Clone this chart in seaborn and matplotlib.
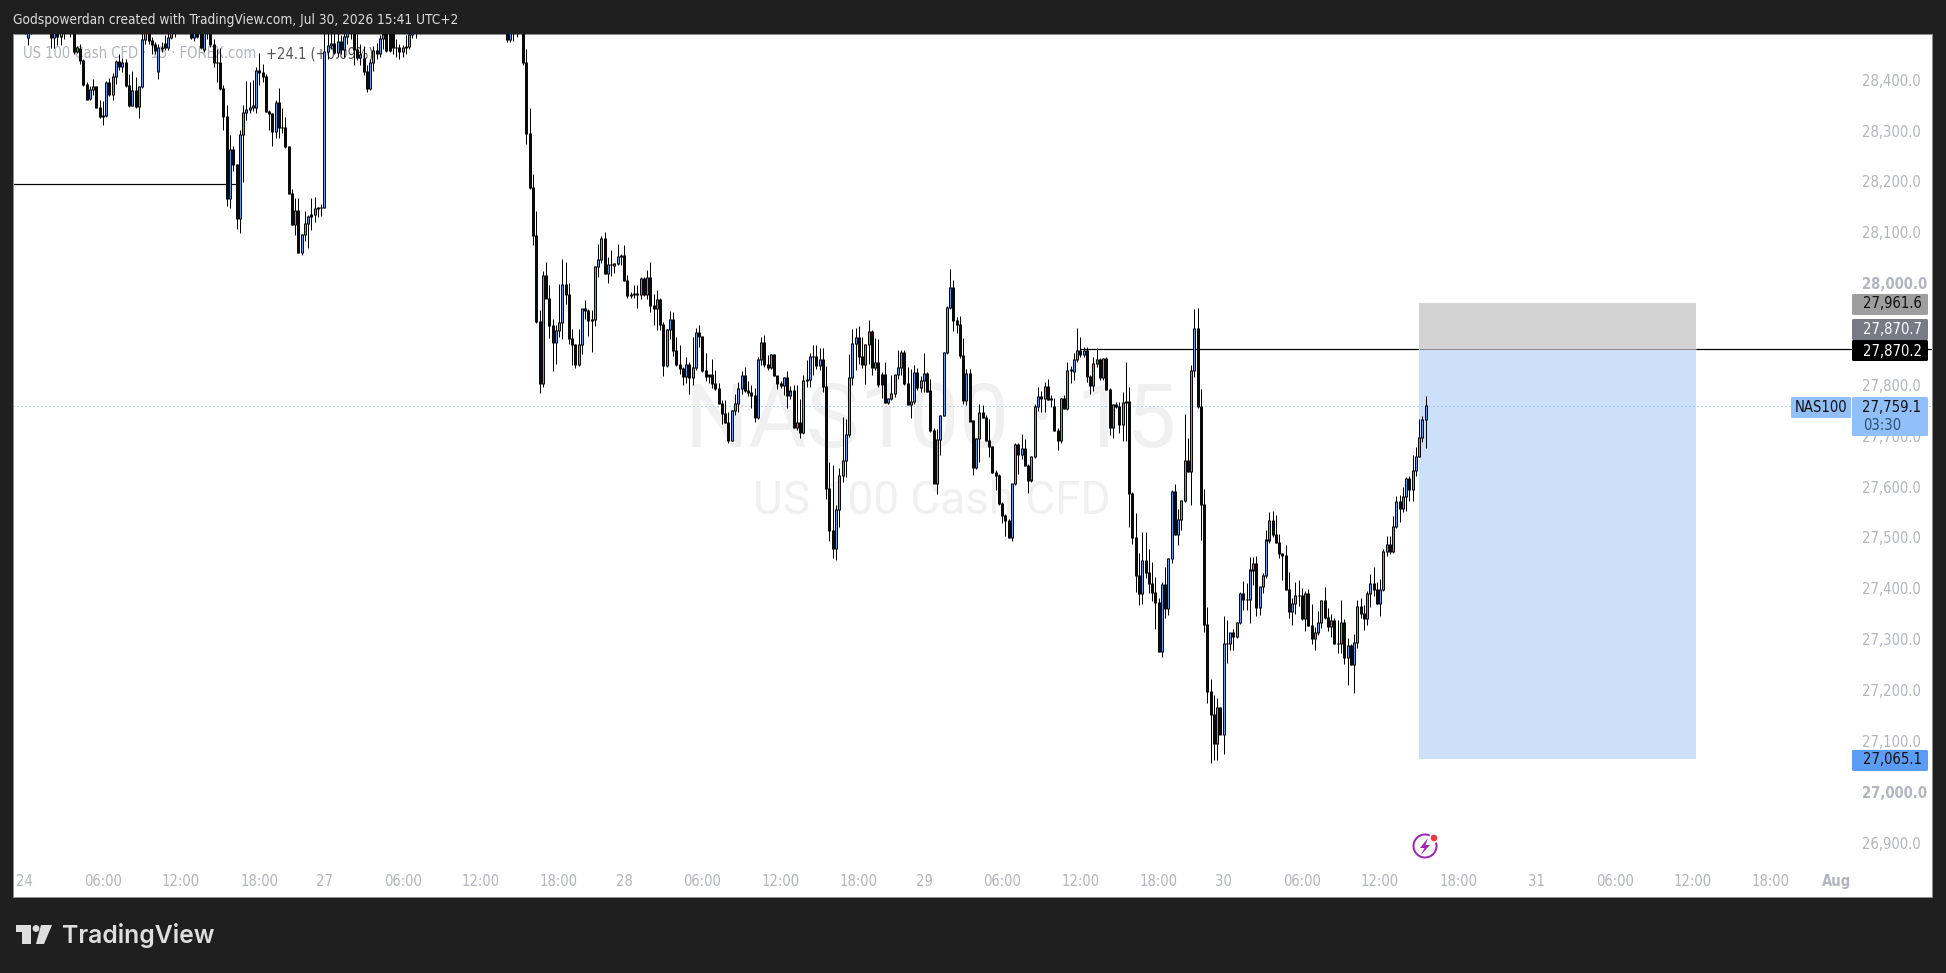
import numpy as np
import pandas as pd
import matplotlib
matplotlib.use("Agg")
import matplotlib.pyplot as plt
import matplotlib.patches as mpatches
import seaborn as sns

nan = float("nan")

# NAS100 15 min candles, first bar is index -3 (00:00 on the 24th is 0)
opens = [28520,28530,28515,28510,28484,28500,28520,28535,28525,28540,
28520,28510,28484,28500,28485,28495,28510,28505,28498,28456,
28462,28438,28390,28363,28380,28386,28346,28327,28329,28394,
28371,28407,28435,28426,28433,28388,28350,28379,28348,28386,
28479,28495,28478,28469,28416,28464,28472,28463,28484,28495,
28510,28520,28515,28525,28520,28483,28500,28500,28460,28495,
28505,28470,28433,28434,28382,28327,28166,28263,28233,28128,
28292,28335,28342,28346,28346,28418,28414,28406,28337,28333,
28299,28355,28306,28307,28268,28177,28116,28142,28061,28096,
28117,28132,28135,28146,28148,28149,28456,28467,28471,28453,
28475,28460,28485,28500,28510,28459,28443,28441,28417,28382,
28433,28458,28452,28482,28500,28495,28490,28463,28463,28456,
28464,28465,28489,28500,
nan,nan,nan,nan,nan,nan,nan,nan,nan,nan,nan,nan,nan,nan,nan,nan,nan,nan,nan,nan,nan,nan,nan,nan,nan,nan,nan,
28500,28479,28495,28500,28510,28505,28433,28294,28189,28094,27924,
27803,28016,27970,27916,27883,27907,27923,27998,27978,27891,
27880,27841,27880,27950,27947,27926,27928,28032,28047,28088,
28020,28037,28034,28038,28053,28055,28005,27975,27978,27979,
27978,28009,27978,28011,27957,27950,27968,27918,27839,27908,
27928,27867,27841,27832,27817,27841,27814,27834,27903,27895,
27829,27817,27820,27803,27792,27764,27743,27726,27690,27749,
27764,27793,27819,27789,27785,27779,27736,27849,27884,27840,
27834,27860,27818,27803,27798,27815,27779,27788,27716,27727,
27706,27809,27811,27855,27856,27839,27849,27796,27596,27513,
27478,27555,27621,27651,27703,27814,27881,27894,27855,27841,
27879,27905,27835,27844,27820,27820,27765,27773,27784,27820,
27835,27864,27803,27761,27767,27824,27794,27809,27822,27788,
27711,27607,27693,27740,27864,27952,27991,27926,27919,27858,
27770,27822,27729,27637,27695,27746,27735,27690,27678,27627,
27622,27567,27543,27534,27499,27606,27683,27663,27675,27641,
27613,27660,27757,27778,27773,27796,27771,27757,27710,27690,
27773,27754,27829,27826,27850,27868,27860,27868,27817,27798,
27842,27850,27814,27852,27791,27717,27761,27758,27722,27765,
27767,27587,27499,27425,27390,27454,27432,27410,27391,27372,
27275,27407,27360,27459,27591,27506,27535,27572,27651,27629,
27829,27911,27758,27564,27328,27197,27152,27095,27166,27113,
27292,27291,27313,27305,27333,27390,27378,27378,27436,27449,
27362,27403,27425,27495,27534,27506,27491,27468,27464,27398,
27354,27370,27385,27386,27341,27390,27326,27301,27313,27333,
27377,27343,27324,27337,27292,27291,27333,27263,27288,27250,
27294,27364,27350,27341,27390,27409,27398,27371,27398,27472,
27486,27473,27521,27570,27557,27580,27616,27594,27631,27660,
27696,27732]

highs = [28540,28550,28535,28530,28510,28530,28545,28555,28550,28560,
28540,28520,28510,28515,28505,28520,28530,28525,28515,28467,
28470,28440,28395,28388,28402,28388,28361,28358,28397,28404,
28413,28438,28450,28442,28440,28411,28418,28405,28388,28495,
28510,28510,28485,28475,28470,28475,28489,28495,28505,28520,
28530,28540,28535,28545,28530,28510,28510,28520,28510,28515,
28520,28480,28460,28462,28390,28351,28292,28270,28235,28302,
28351,28397,28395,28400,28425,28453,28431,28412,28340,28335,
28361,28384,28344,28326,28270,28186,28168,28168,28096,28142,
28135,28168,28170,28150,28155,28500,28500,28510,28500,28495,
28489,28510,28510,28520,28525,28490,28470,28466,28430,28440,
28466,28473,28489,28510,28520,28515,28515,28481,28470,28468,
28489,28495,28510,28520,
nan,nan,nan,nan,nan,nan,nan,nan,nan,nan,nan,nan,nan,nan,nan,nan,nan,nan,nan,nan,nan,nan,nan,nan,nan,nan,nan,
28520,28510,28510,28520,28525,28520,28460,28345,28215,28142,27947,
28024,28042,27996,27929,27918,27998,28047,28041,28000,27910,
27880,27910,27950,27967,27950,27948,28034,28077,28092,28100,
28051,28065,28040,28077,28058,28075,28016,27982,27996,27996,
28012,28012,28026,28041,27979,27986,27970,27924,27910,27945,
27944,27895,27878,27836,27855,27846,27895,27911,27918,27897,
27862,27820,27850,27829,27803,27770,27770,27747,27750,27783,
27805,27827,27836,27808,27800,27793,27855,27895,27898,27859,
27860,27860,27818,27808,27815,27827,27797,27799,27799,27773,
27819,27848,27863,27878,27879,27873,27873,27837,27649,27642,
27563,27636,27737,27732,27860,27909,27911,27915,27895,27880,
27927,27907,27892,27891,27825,27845,27775,27819,27820,27869,
27869,27868,27835,27832,27840,27834,27818,27862,27825,27812,
27716,27714,27740,27864,27955,28027,28006,27934,27936,27892,
27831,27831,27731,27695,27762,27760,27740,27732,27680,27632,
27625,27570,27547,27537,27606,27686,27685,27704,27693,27645,
27660,27763,27795,27788,27806,27812,27780,27775,27715,27775,
27780,27845,27837,27862,27911,27894,27875,27875,27820,27855,
27873,27852,27852,27855,27793,27762,27767,27767,27786,27846,
27796,27590,27548,27470,27510,27510,27478,27452,27423,27381,
27413,27442,27460,27593,27605,27555,27574,27742,27695,27840,
27950,27952,27791,27596,27364,27222,27191,27184,27166,27345,
27338,27313,27320,27333,27393,27414,27410,27462,27462,27464,
27403,27430,27514,27550,27552,27544,27506,27470,27485,27432,
27380,27413,27417,27400,27395,27398,27369,27323,27355,27377,
27403,27362,27349,27341,27338,27377,27339,27303,27290,27311,
27378,27380,27367,27395,27429,27441,27413,27419,27478,27503,
27503,27542,27582,27583,27600,27619,27620,27662,27678,27732,
27738,27778]

lows = [28505,28510,28500,28490,28468,28490,28505,28520,28510,28515,
28500,28463,28463,28468,28468,28480,28495,28485,28450,28452,
28431,28388,28360,28360,28370,28345,28325,28311,28327,28368,
28361,28391,28420,28415,28386,28346,28348,28345,28325,28384,
28470,28470,28451,28450,28402,28455,28459,28458,28480,28485,
28495,28505,28500,28510,28481,28477,28482,28460,28455,28480,
28465,28425,28395,28380,28302,28152,28148,28220,28106,28099,
28198,28320,28335,28338,28335,28390,28395,28336,28302,28270,
28285,28286,28296,28266,28175,28115,28095,28060,28055,28083,
28070,28105,28120,28130,28132,28147,28440,28460,28450,28445,
28450,28445,28470,28480,28429,28438,28430,28410,28376,28380,
28417,28440,28445,28460,28455,28455,28450,28444,28440,28445,
28450,28460,28483,28483,
nan,nan,nan,nan,nan,nan,nan,nan,nan,nan,nan,nan,nan,nan,nan,nan,nan,nan,nan,nan,nan,nan,nan,nan,nan,nan,nan,
28475,28475,28477,28485,28492,28430,28273,28185,28075,27922,27785,
27795,27970,27893,27828,27841,27895,27890,27959,27880,27839,
27834,27838,27860,27930,27896,27865,27916,28013,28040,28019,
28000,28014,28020,28035,28035,28005,27970,27971,27970,27952,
27968,27975,27968,27943,27918,27908,27908,27817,27836,27890,
27857,27838,27821,27800,27803,27782,27800,27830,27875,27826,
27808,27803,27793,27790,27762,27723,27725,27686,27689,27740,
27746,27783,27787,27779,27755,27728,27732,27840,27836,27830,
27832,27818,27792,27793,27780,27754,27773,27716,27711,27696,
27704,27796,27796,27820,27832,27830,27786,27575,27493,27460,
27455,27521,27610,27619,27697,27799,27829,27842,27833,27801,
27842,27819,27830,27796,27775,27765,27762,27770,27776,27812,
27819,27800,27760,27734,27762,27790,27786,27786,27786,27708,
27607,27585,27662,27738,27860,27950,27905,27902,27853,27763,
27760,27729,27623,27634,27649,27735,27690,27659,27627,27594,
27564,27528,27502,27499,27493,27603,27625,27655,27640,27588,
27610,27657,27749,27747,27747,27770,27757,27710,27672,27686,
27752,27750,27803,27809,27845,27855,27855,27806,27782,27788,
27835,27810,27810,27790,27702,27695,27755,27705,27690,27689,
27521,27488,27393,27367,27370,27420,27391,27376,27320,27275,
27265,27342,27347,27450,27505,27485,27514,27570,27628,27564,
27816,27755,27495,27315,27174,27057,27062,27062,27113,27075,
27254,27279,27279,27303,27330,27357,27357,27331,27407,27346,
27347,27390,27421,27490,27500,27490,27460,27416,27396,27342,
27328,27350,27365,27338,27316,27326,27291,27278,27308,27321,
27340,27316,27305,27291,27273,27272,27252,27210,27250,27195,
27282,27342,27318,27328,27364,27385,27370,27346,27395,27464,
27468,27470,27519,27531,27550,27552,27572,27572,27621,27658,
27688,27675]

closes = [28530,28515,28510,28500,28500,28520,28535,28525,28540,28520,
28510,28484,28500,28485,28495,28510,28505,28500,28456,28463,
28438,28390,28361,28381,28386,28346,28327,28329,28394,28371,
28407,28435,28426,28433,28388,28350,28379,28348,28386,28479,
28495,28478,28469,28458,28464,28462,28463,28484,28495,28510,
28520,28515,28525,28520,28483,28500,28486,28463,28495,28505,
28469,28433,28434,28382,28327,28166,28263,28233,28128,28292,
28335,28342,28346,28350,28418,28414,28406,28337,28333,28299,
28355,28306,28307,28268,28177,28116,28142,28061,28096,28117,
28132,28135,28146,28148,28149,28456,28467,28471,28453,28475,
28460,28485,28500,28510,28459,28443,28450,28417,28382,28433,
28458,28452,28482,28490,28458,28458,28463,28463,28456,28464,
28465,28489,28500,28505,
nan,nan,nan,nan,nan,nan,nan,nan,nan,nan,nan,nan,nan,nan,nan,nan,nan,nan,nan,nan,nan,nan,nan,nan,nan,nan,nan,
28479,28495,28500,28510,28505,28433,28294,28189,28094,27924,27803,
28016,27970,27916,27883,27907,27923,27998,27978,27891,27880,
27841,27880,27950,27947,27926,27928,28032,28047,28088,28020,
28037,28037,28038,28053,28055,28005,27975,27978,27979,27978,
28009,27978,28011,27957,27950,27968,27918,27839,27908,27928,
27867,27841,27832,27817,27841,27814,27834,27903,27895,27829,
27817,27820,27803,27792,27764,27743,27726,27690,27749,27764,
27793,27819,27789,27785,27779,27736,27849,27884,27840,27834,
27860,27818,27803,27798,27815,27779,27788,27716,27727,27706,
27809,27811,27855,27856,27839,27849,27796,27596,27513,27478,
27555,27621,27651,27703,27814,27881,27894,27855,27841,27879,
27905,27835,27844,27801,27801,27765,27773,27784,27820,27835,
27864,27803,27761,27767,27824,27794,27809,27822,27788,27711,
27607,27693,27740,27864,27952,27991,27926,27919,27858,27770,
27822,27729,27637,27695,27746,27735,27690,27678,27627,27622,
27567,27543,27534,27499,27606,27683,27663,27675,27641,27613,
27660,27757,27778,27773,27796,27771,27773,27710,27690,27773,
27754,27829,27830,27850,27868,27860,27868,27817,27798,27842,
27850,27814,27852,27791,27717,27761,27758,27722,27765,27767,
27587,27499,27425,27390,27454,27432,27410,27391,27372,27275,
27407,27360,27459,27591,27506,27535,27572,27651,27629,27829,
27911,27758,27564,27328,27197,27152,27095,27166,27113,27292,
27291,27313,27305,27333,27390,27378,27378,27436,27449,27362,
27403,27425,27495,27534,27506,27491,27468,27464,27398,27354,
27370,27385,27386,27341,27390,27326,27301,27313,27333,27377,
27343,27324,27337,27292,27291,27333,27263,27288,27250,27294,
27364,27350,27341,27390,27409,27398,27371,27398,27472,27486,
27473,27521,27570,27557,27580,27616,27594,27631,27660,27696,
27732,27759.1]

first_bar = -3

# axis ticks, 27,900 sits behind the price tags so it is left out
price_ticks = [26900,27000,27100,27200,27300,27400,27500,27600,27700,27800,28000,28100,28200,28300,28400]
time_ticks = [0,24,48,72,92,116,140,164,184,208,232,256,276,300,324,348,368,392,416,440,464,488,512,536,556]
time_labels = ["24","06:00","12:00","18:00","27","06:00","12:00","18:00","28","06:00","12:00","18:00",
               "29","06:00","12:00","18:00","30","06:00","12:00","18:00","31","06:00","12:00","18:00","Aug"]

# drawings on the chart
left_level = 28195
left_level_end = 65
entry_level = 27870.2
entry_level_start = 324
last_price = 27759.1
box_bars = [428, 513]
box_entry = 27870.7
box_stop = 27961.6
box_target = 27065.1

DPI = 100
W, H = 1946, 973
PANEL = (13, 34, 1932, 897)  # left, top, right, bottom in pixels
DARK = "#1f1f1f"
UP = "#5b9cf6"
AXIS_TEXT = "#b2b5be"
px = 72 / DPI

sns.set_theme(style="white")
plt.rcParams["font.family"] = ["DejaVu Sans"]
plt.rcParams["font.stretch"] = "condensed"

fig = plt.figure(figsize=(W / DPI, H / DPI), dpi=DPI, facecolor=DARK)
ax = fig.add_axes([PANEL[0] / W, 1 - PANEL[3] / H, (PANEL[2] - PANEL[0]) / W, (PANEL[3] - PANEL[1]) / H])
ax.set_facecolor("white")

o = np.array(opens, dtype=float)
h = np.array(highs, dtype=float)
l = np.array(lows, dtype=float)
c = np.array(closes, dtype=float)
bars = np.arange(first_bar, first_bar + len(c))
ok = ~np.isnan(c)
o, h, l, c, bars = o[ok], h[ok], l[ok], c[ok], bars[ok]


def segments(x, y0, y1):
    return pd.DataFrame({"bar": np.repeat(x, 2), "price": np.column_stack([y0, y1]).ravel(),
                         "candle": np.repeat(x, 2)})


# wicks, then the dark body of every candle, then the blue core of the rising ones
top = np.maximum(o, c)
bot = np.minimum(o, c)
up = (c > o) & (top - bot > 3)
sns.lineplot(data=segments(bars, l, h), x="bar", y="price", units="candle", estimator=None, sort=False,
             color="black", linewidth=1 * px, solid_capstyle="butt", ax=ax, zorder=3, legend=False)
sns.lineplot(data=segments(bars, bot - 1, top + 1), x="bar", y="price", units="candle", estimator=None, sort=False,
             color="#0a0a0a", linewidth=3 * px, solid_capstyle="butt", ax=ax, zorder=3.1, legend=False)
sns.lineplot(data=segments(bars[up], bot[up] + 1, top[up] - 1), x="bar", y="price", units="candle", estimator=None,
             sort=False, color=UP, linewidth=1 * px, solid_capstyle="butt", ax=ax, zorder=3.2, legend=False)

ax.set_xlim(-3.6, 585.4)
ax.set_ylim(26793, 28490)
ax.set_xlabel("")
ax.set_ylabel("")

# long position box
ax.hlines(left_level, -3.6, left_level_end, color="black", lw=1.2 * px, zorder=1)
ax.hlines(entry_level, entry_level_start, 585.4, color="black", lw=1.2 * px, zorder=1)
ax.fill_between(box_bars, box_entry, box_stop, color="#d3d3d3", lw=0, zorder=1.5)
ax.fill_between(box_bars, box_target, box_entry, color="#cde0fa", lw=0, zorder=1.5)
ax.hlines(box_entry, box_bars[0], box_bars[1], color="#8f8f8f", lw=1 * px, zorder=1.6)
ax.plot([-3.6, 585.4], [last_price, last_price], color="#6fa8f5", lw=1 * px, ls=(0, (1, 3)), zorder=1.7)

# axes text sits inside the panel like on TradingView
ax.yaxis.tick_right()
ax.set_yticks(price_ticks)
ax.set_yticklabels([f"{v:,.1f}" for v in price_ticks], color=AXIS_TEXT, fontsize=10.6)
ax.set_xticks(time_ticks)
ax.set_xticklabels(time_labels, color=AXIS_TEXT, fontsize=10.6)
ax.tick_params(axis="y", length=0, pad=-70 * px)
ax.tick_params(axis="x", length=0, pad=-23 * px)
ax.get_xticklabels()[-1].set_fontweight("bold")
for t in ax.get_yticklabels():
    if t.get_text() in ("27,000.0", "28,000.0"):
        t.set_fontweight("bold")
for s in ax.spines.values():
    s.set_visible(True)
    s.set_color("#8c8c8c")
    s.set_linewidth(1 * px)


def fig_xy(x, y):
    return x / W, 1 - y / H


# watermark and legend under the candles
ft = fig.transFigure
ax.text(*fig_xy(931, 423), "NAS100 · 15", transform=ft, ha="center", va="center", fontsize=64,
        family=["Roboto", "DejaVu Sans"], stretch="normal", color="#f0f0f0", zorder=0.5)
ax.text(*fig_xy(932, 501), "US 100 Cash CFD", transform=ft, ha="center", va="center", fontsize=33,
        family=["Roboto", "DejaVu Sans"], stretch="normal", color="#f0f0f0", zorder=0.5)
ax.text(*fig_xy(23, 54), "US 100 Cash CFD · 15 · FOREX.com", transform=ft, ha="left", va="center", fontsize=10.5,
        color=AXIS_TEXT, zorder=2)
ax.text(*fig_xy(266, 54), "+24.1 (+0.09%)", transform=ft, ha="left", va="center", fontsize=10.5,
        color="#555555", zorder=2)

# overlay in pixel coordinates for the price tags, logo and icon
ov = fig.add_axes([0, 0, 1, 1], facecolor="none")
ov.set_xlim(0, W)
ov.set_ylim(H, 0)
ov.axis("off")


def tag(x0, x1, y0, y1, color):
    ov.add_patch(mpatches.FancyBboxPatch((x0 + 1, y0 + 1), x1 - x0 - 2, y1 - y0 - 2,
                                         boxstyle="round,pad=1,rounding_size=1.5", fc=color, ec="none"))


def tag_text(x, y, s, color):
    ov.text(x, y, s, ha="center", va="center", fontsize=10.6, color=color)


tag(1852, 1928, 294, 315, "#9e9e9e")
tag_text(1892, 304, f"{box_stop:,.1f}", "#111111")
tag(1852, 1928, 319, 340, "#787b86")
tag_text(1892, 329, f"{box_entry:,.1f}", "white")
tag(1852, 1928, 340, 361, "black")
tag_text(1892, 351, f"{entry_level:,.1f}", "white")
tag(1852, 1928, 397, 436, "#90bff9")
tag_text(1892, 407, f"{last_price:,.1f}", "#111111")
ov.text(1863, 425, "03:30", ha="left", va="center", fontsize=10.6, color="#2f4d73")
tag(1791, 1851, 397, 418, "#90bff9")
tag_text(1821, 407, "NAS100", "#111111")
tag(1852, 1928, 750, 771, "#5b9cf6")
tag_text(1892, 760, f"{box_target:,.1f}", "#111111")

# header and logo
ov.text(13, 20, "Godspowerdan created with TradingView.com, Jul 30, 2026 15:41 UTC+2", ha="left", va="center",
        fontsize=9.8, color="#dcdcdc")
logo = "#dedede"
ov.add_patch(mpatches.Polygon([(16, 925), (31, 925), (31, 944), (22, 944), (22, 932), (16, 932)], fc=logo, ec="none"))
ov.add_patch(mpatches.Circle((36, 928.5), 3.4, fc=logo, ec="none"))
ov.add_patch(mpatches.Polygon([(41, 925), (52, 925), (44, 944), (36, 944)], fc=logo, ec="none"))
ov.text(62, 935, "TradingView", ha="left", va="center", fontsize=17.8, family=["Inter", "DejaVu Sans"],
        stretch="normal", weight="semibold", color=logo)

# purple alert icon
ov.add_patch(mpatches.Circle((1425, 846), 11.5, fc="white", ec="#9c27b0", lw=2 * px))
ov.add_patch(mpatches.Polygon([(1428, 838), (1420, 848), (1424.5, 848), (1421, 855), (1430, 845), (1425.5, 845)],
                              fc="#9c27b0", ec="none"))
ov.add_patch(mpatches.Circle((1434, 838), 5, fc="white", ec="none"))
ov.add_patch(mpatches.Circle((1434, 838), 3.3, fc="#f23645", ec="none"))

fig.savefig("out.png", dpi=DPI, facecolor=DARK)
